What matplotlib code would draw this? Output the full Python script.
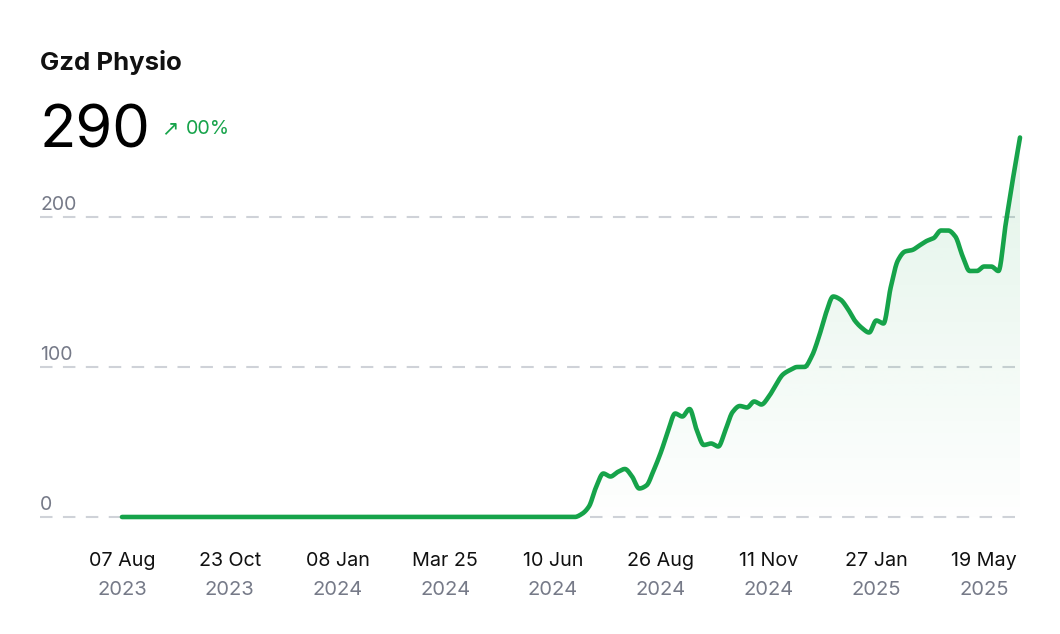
import numpy as np
import matplotlib
matplotlib.use("Agg")
import matplotlib.pyplot as plt
from matplotlib import transforms
from matplotlib.patches import Polygon

# ---------------- data ----------------
title = "Gzd Physio"
headline_value = "290"
change_text = "00%"

x_dates = ["07 Aug", "23 Oct", "08 Jan", "Mar 25", "10 Jun",
           "26 Aug", "11 Nov", "27 Jan", "19 May"]
x_years = ["2023", "2023", "2024", "2024", "2024",
           "2024", "2024", "2025", "2025"]
tick_every = 15
y_ticks = [0, 100, 200]

values = [
    0, 0, 0, 0, 0, 0, 0, 0, 0, 0, 0, 0, 0, 0, 0, 0,
    0, 0, 0, 0, 0, 0, 0, 0, 0, 0, 0, 0, 0, 0, 0, 0,
    0, 0, 0, 0, 0, 0, 0, 0, 0, 0, 0, 0, 0, 0, 0, 0,
    0, 0, 0, 0, 0, 0, 0, 0, 0, 0, 0, 0, 0, 0, 0, 0,
    2, 7, 20, 29, 27, 30, 32, 27, 19, 21,
    31, 43, 57, 69, 67, 72, 58, 48, 49, 47,
    58, 70, 74, 73, 77, 75, 80, 88, 95, 98,
    100, 100, 107, 120, 136, 147, 145, 139, 131, 126,
    123, 131, 129, 153, 171, 177, 178, 181, 184, 186,
    191, 191, 187, 174, 164, 164, 167, 167, 164, 195,
    225, 253,
]

# ---------------- styles ----------------
GREEN = "#16a34a"
GRID = "#cfd2d8"
MUTED = "#767a88"
DARK = "#111111"
FONT = ["Inter", "DejaVu Sans"]
plt.rcParams["font.family"] = FONT

W, H, DPI = 1060, 634, 100


def pchip(x, y, xs):
    x = np.asarray(x, float)
    y = np.asarray(y, float)
    h = np.diff(x)
    delta = np.diff(y) / h
    n = len(x)
    d = np.zeros(n)
    for k in range(1, n - 1):
        if delta[k - 1] * delta[k] > 0:
            w1 = 2 * h[k] + h[k - 1]
            w2 = h[k] + 2 * h[k - 1]
            d[k] = (w1 + w2) / (w1 / delta[k - 1] + w2 / delta[k])
    d[0] = delta[0]
    d[-1] = delta[-1]
    idx = np.clip(np.searchsorted(x, xs) - 1, 0, n - 2)
    t = (xs - x[idx]) / h[idx]
    h00 = 2 * t**3 - 3 * t**2 + 1
    h10 = t**3 - 2 * t**2 + t
    h01 = -2 * t**3 + 3 * t**2
    h11 = t**3 - t**2
    return (h00 * y[idx] + h10 * h[idx] * d[idx]
            + h01 * y[idx + 1] + h11 * h[idx] * d[idx + 1])


fig = plt.figure(figsize=(W / DPI, H / DPI), dpi=DPI)
fig.patch.set_facecolor("white")

# axes placement in pixels: left 40, right 1020, top 130, bottom 520
ax = fig.add_axes([40 / W, (H - 520) / H, 980 / W, 390 / H])
ax.set_facecolor("none")

x = np.arange(len(values))
xs = np.linspace(0, len(values) - 1, 3000)
ys = pchip(x, values, xs)

# grid lines
for v in y_ticks:
    ax.axhline(v, color=GRID, lw=1.5, dashes=(6, 5), zorder=0)

# gradient fill under the curve
ymax = max(values)
grad = np.linspace(0, 1, 256)[:, None]
rgba = np.zeros((256, 1, 4))
rgba[..., 0] = 22 / 255
rgba[..., 1] = 163 / 255
rgba[..., 2] = 74 / 255
rgba[..., 3] = 0.005 + 0.12 * grad
im = ax.imshow(rgba, extent=[0, len(values) - 1, 0, ymax], origin="lower",
               aspect="auto", zorder=1, interpolation="bilinear")
poly_pts = np.column_stack([np.r_[xs, xs[-1], xs[0]], np.r_[ys, 0, 0]])
poly = Polygon(poly_pts, closed=True, facecolor="none", edgecolor="none")
ax.add_patch(poly)
im.set_clip_path(poly)

ax.plot(xs, ys, color=GREEN, lw=3.3, solid_capstyle="round",
        solid_joinstyle="round", zorder=3, clip_on=False)

ax.set_xlim(-11.41, len(values) - 1)
ax.set_ylim(-2, 258)

for s in ax.spines.values():
    s.set_visible(False)
ax.set_xticks([])
ax.set_yticks([])

# y labels above grid lines
ytrans = transforms.offset_copy(
    transforms.blended_transform_factory(ax.transAxes, ax.transData),
    fig=fig, x=0, y=7.5 * 0.72, units="points")
for v in y_ticks:
    ax.text(0, v, str(v), transform=ytrans, ha="left", va="baseline",
            fontsize=14, color=MUTED)

# x labels
xtrans = transforms.blended_transform_factory(ax.transData, fig.transFigure)
tick_pos = np.arange(len(x_dates)) * tick_every
for p, d, yr in zip(tick_pos, x_dates, x_years):
    ax.text(p, 1 - 566 / H, d, transform=xtrans, ha="center", va="baseline",
            fontsize=14.2, color=DARK)
    ax.text(p, 1 - 595 / H, yr, transform=xtrans, ha="center", va="baseline",
            fontsize=14.5, color=MUTED)

# header
fig.text(40 / W, 1 - 70 / H, title, fontsize=18.5, fontweight="bold",
         color=DARK, ha="left", va="baseline")
fig.text(39 / W, 1 - 148 / H, headline_value, fontsize=43, color="black",
         ha="left", va="baseline")
fig.text(161 / W, 1 - 134 / H, "\u2197", fontsize=15, color=GREEN,
         ha="left", va="baseline", family=["DejaVu Sans"])
fig.text(186 / W, 1 - 134 / H, change_text, fontsize=14.2, color=GREEN,
         ha="left", va="baseline")

fig.savefig("out.png", dpi=DPI, facecolor="white")
